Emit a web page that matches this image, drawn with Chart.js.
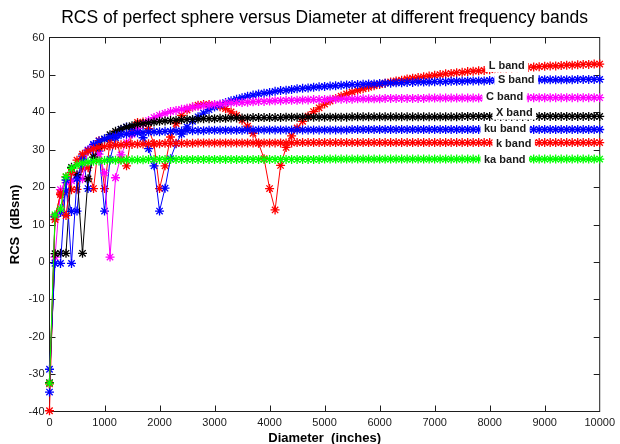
<!DOCTYPE html>
<html>
<head>
<meta charset="utf-8">
<script src="https://cdn.jsdelivr.net/npm/chart.js@4.4.0/dist/chart.umd.min.js"></script>
<style>
  html, body { margin: 0; padding: 0; background: #fff; }
</style>
</head>
<body>
<canvas id="rcsChart" width="620" height="444"></canvas>
<script>
// diameters (inches) where every band was sampled
var diameters = [0,100,200,300,400,500,600,700,800,900,
  1000,1100,1200,1300,1400,1500,1600,1700,1800,1900,
  2000,2100,2200,2300,2400,2500,2600,2700,2800,2900,
  3000,3100,3200,3300,3400,3500,3600,3700,3800,3900,
  4000,4100,4200,4300,4400,4500,4600,4700,4800,4900,
  5000,5100,5200,5300,5400,5500,5600,5700,5800,5900,
  6000,6100,6200,6300,6400,6500,6600,6700,6800,6900,
  7000,7100,7200,7300,7400,7500,7600,7700,7800,7900,
  8000,8100,8200,8300,8400,8500,8600,8700,8800,8900,
  9000,9100,9200,9300,9400,9500,9600,9700,9800,9900,
  10000];

var bandNames = ["L band", "S band", "C band", "X band", "ku band", "k band", "ka band"];
var bandColors = ["#ff0000", "#0000ff", "#ff00ff", "#000000", "#0000ff", "#ff0000", "#00ff00"];

// RCS in dBsm
var rcsL = [-39.8,12.2,18.0,22.7,19.3,19.4,25.1,25.2,19.6,32.4,
  19.6,32.4,34.3,27.4,25.7,34.8,37.3,37.4,35.6,31.5,
  19.6,25.7,33.4,37.0,39.2,40.6,41.4,41.9,42.1,42.1,
  41.9,41.5,41.0,40.1,39.2,37.9,36.3,34.4,31.7,27.6,
  19.6,13.9,25.8,30.6,33.7,35.8,37.6,39.0,40.2,41.2,
  42.2,43.0,43.7,44.3,44.9,45.4,45.9,46.3,46.7,47.1,
  47.4,47.8,48.1,48.4,48.6,48.9,49.1,49.3,49.5,49.7,
  49.9,50.1,50.3,50.4,50.6,50.7,50.9,51.0,51.1,51.2,
  51.4,51.5,51.6,51.7,51.8,51.9,52.0,52.0,52.1,52.2,
  52.3,52.4,52.4,52.5,52.6,52.6,52.7,52.8,52.8,52.9,
  52.9];
var rcsS = [-34.8,12.0,13.2,19.0,13.5,13.6,28.3,19.6,31.3,29.6,
  13.6,27.4,33.2,35.4,36.1,35.9,34.9,33.2,30.3,25.7,
  13.6,19.7,27.6,31.6,34.2,36.1,37.6,38.8,39.8,40.7,
  41.4,42.0,42.6,43.1,43.5,43.9,44.3,44.6,44.9,45.1,
  45.3,45.6,45.8,45.9,46.1,46.3,46.4,46.5,46.7,46.8,
  46.9,47.0,47.1,47.2,47.3,47.4,47.4,47.5,47.6,47.6,
  47.7,47.8,47.8,47.9,47.9,48.0,48.0,48.1,48.1,48.1,
  48.2,48.2,48.2,48.3,48.3,48.3,48.4,48.4,48.4,48.4,
  48.5,48.5,48.5,48.5,48.6,48.6,48.6,48.6,48.6,48.7,
  48.7,48.7,48.7,48.7,48.7,48.7,48.8,48.8,48.8,48.8,
  48.8];
var rcsC = [-32.5,1.3,19.3,21.2,21.7,23.2,22.2,29.9,30.8,28.8,
  23.8,1.3,22.5,28.6,31.9,34.1,35.7,36.9,37.8,38.6,
  39.2,39.7,40.2,40.5,40.8,41.1,41.4,41.6,41.8,41.9,
  42.1,42.2,42.4,42.5,42.6,42.6,42.7,42.8,42.9,42.9,
  43.0,43.1,43.1,43.2,43.2,43.2,43.3,43.3,43.4,43.4,
  43.4,43.5,43.5,43.5,43.5,43.5,43.6,43.6,43.6,43.6,
  43.6,43.7,43.7,43.7,43.7,43.7,43.7,43.7,43.7,43.8,
  43.8,43.8,43.8,43.8,43.8,43.8,43.8,43.8,43.8,43.8,
  43.9,43.9,43.9,43.9,43.9,43.9,43.9,43.9,43.9,43.9,
  43.9,43.9,43.9,43.9,43.9,43.9,43.9,43.9,43.9,43.9,
  43.9];
var rcsX = [-32.3,2.2,2.3,2.3,25.3,23.3,2.3,22.2,28.0,31.0,
  32.8,34.0,34.9,35.5,36.0,36.4,36.8,37.0,37.2,37.4,
  37.6,37.7,37.8,37.9,38.0,38.1,38.1,38.2,38.3,38.3,
  38.3,38.4,38.4,38.5,38.5,38.5,38.5,38.6,38.6,38.6,
  38.6,38.6,38.6,38.7,38.7,38.7,38.7,38.7,38.7,38.7,
  38.7,38.7,38.7,38.7,38.7,38.8,38.8,38.8,38.8,38.8,
  38.8,38.8,38.8,38.8,38.8,38.8,38.8,38.8,38.8,38.8,
  38.8,38.8,38.8,38.8,38.8,38.9,38.9,38.9,38.9,38.9,
  38.9,38.9,38.9,38.9,38.9,38.9,38.9,38.9,38.9,38.9,
  38.9,38.9,38.9,38.9,38.9,38.9,38.9,38.9,38.9,38.9,
  38.9];
var rcsKu = [-28.7,-0.4,-0.4,21.9,-0.4,22.2,27.4,29.9,31.4,32.3,
  32.9,33.4,33.7,34.0,34.2,34.4,34.5,34.6,34.7,34.8,
  34.8,34.9,34.9,35.0,35.0,35.1,35.1,35.1,35.1,35.2,
  35.2,35.2,35.2,35.2,35.2,35.2,35.3,35.3,35.3,35.3,
  35.3,35.3,35.3,35.3,35.3,35.3,35.3,35.3,35.3,35.3,
  35.3,35.3,35.3,35.3,35.3,35.4,35.4,35.4,35.4,35.4,
  35.4,35.4,35.4,35.4,35.4,35.4,35.4,35.4,35.4,35.4,
  35.4,35.4,35.4,35.4,35.4,35.4,35.4,35.4,35.4,35.4,
  35.4,35.4,35.4,35.4,35.4,35.4,35.4,35.4,35.4,35.4,
  35.4,35.4,35.4,35.4,35.4,35.4,35.4,35.4,35.4,35.4,
  35.4];
var rcsK = [-32.6,11.3,18.4,12.4,23.9,27.2,28.8,29.6,30.2,30.6,
  30.8,31.0,31.2,31.3,31.4,31.4,31.5,31.5,31.6,31.6,
  31.6,31.7,31.7,31.7,31.7,31.7,31.7,31.8,31.8,31.8,
  31.8,31.8,31.8,31.8,31.8,31.8,31.8,31.8,31.8,31.8,
  31.8,31.8,31.8,31.8,31.8,31.9,31.9,31.9,31.9,31.9,
  31.9,31.9,31.9,31.9,31.9,31.9,31.9,31.9,31.9,31.9,
  31.9,31.9,31.9,31.9,31.9,31.9,31.9,31.9,31.9,31.9,
  31.9,31.9,31.9,31.9,31.9,31.9,31.9,31.9,31.9,31.9,
  31.9,31.9,31.9,31.9,31.9,31.9,31.9,31.9,31.9,31.9,
  31.9,31.9,31.9,31.9,31.9,31.9,31.9,31.9,31.9,31.9,
  31.9];
var rcsKa = [-32.4,12.6,14.2,22.8,25.0,25.9,26.4,26.7,26.9,27.0,
  27.1,27.2,27.2,27.2,27.3,27.3,27.3,27.3,27.4,27.4,
  27.4,27.4,27.4,27.4,27.4,27.4,27.4,27.4,27.4,27.4,
  27.4,27.4,27.4,27.4,27.4,27.4,27.4,27.4,27.4,27.4,
  27.4,27.4,27.4,27.4,27.4,27.4,27.4,27.4,27.4,27.4,
  27.5,27.5,27.5,27.5,27.5,27.5,27.5,27.5,27.5,27.5,
  27.5,27.5,27.5,27.5,27.5,27.5,27.5,27.5,27.5,27.5,
  27.5,27.5,27.5,27.5,27.5,27.5,27.5,27.5,27.5,27.5,
  27.5,27.5,27.5,27.5,27.5,27.5,27.5,27.5,27.5,27.5,
  27.5,27.5,27.5,27.5,27.5,27.5,27.5,27.5,27.5,27.5,
  27.5];

var allBands = [rcsL, rcsS, rcsC, rcsX, rcsKu, rcsK, rcsKa];

// where the band names sit (left edge of text, centre line), in data units
var labelX = [7982, 8150, 7933, 8114, 7897, 8114, 7897];
var labelY = [52.65, 48.8, 44.2, 39.9, 35.7, 31.7, 27.4];

var chartTitle = "RCS of perfect sphere versus Diameter at different frequency bands";
var xTitle = "Diameter  (inches)";
var yTitle = "RCS  (dBsm)";

Chart.defaults.font.family = "'Liberation Sans', Arial, sans-serif";

var datasets = [];
for (var i = 0; i < allBands.length; i++) {
  var pts = [];
  for (var j = 0; j < diameters.length; j++) {
    pts.push({ x: diameters[j], y: allBands[i][j] });
  }
  datasets.push({
    label: bandNames[i],
    data: pts,
    borderColor: bandColors[i],
    backgroundColor: bandColors[i],
    borderWidth: 1,
    pointStyle: "star",
    pointRadius: 4.5,
    pointBorderWidth: 1.3,
    pointBorderColor: bandColors[i],
    tension: 0,
    clip: false,
    order: allBands.length - i
  });
}

// box, inward ticks, titles and the band names
var matlabLook = {
  id: "matlabLook",
  beforeDatasetsDraw: function (chart) {
    var ctx = chart.ctx, a = chart.chartArea;
    var sx = chart.scales.x, sy = chart.scales.y;
    ctx.save();
    ctx.strokeStyle = "#1e1e1e";
    ctx.lineWidth = 1;
    ctx.beginPath();
    sx.ticks.forEach(function (t) {
      if (t.value <= sx.min || t.value >= sx.max) return;
      var px = Math.round(sx.getPixelForValue(t.value)) + 0.5;
      ctx.moveTo(px, a.bottom); ctx.lineTo(px, a.bottom - 6);
      ctx.moveTo(px, a.top); ctx.lineTo(px, a.top + 6);
    });
    sy.ticks.forEach(function (t) {
      if (t.value <= sy.min || t.value >= sy.max) return;
      var py = Math.round(sy.getPixelForValue(t.value)) + 0.5;
      ctx.moveTo(a.left, py); ctx.lineTo(a.left + 6, py);
      ctx.moveTo(a.right, py); ctx.lineTo(a.right - 6, py);
    });
    ctx.stroke();
    ctx.strokeRect(a.left, a.top, a.right - a.left, a.bottom - a.top);
    ctx.restore();
  },
  afterDatasetsDraw: function (chart) {
    var ctx = chart.ctx;
    var sx = chart.scales.x, sy = chart.scales.y;
    ctx.save();
    ctx.font = "bold 11px 'Liberation Sans', Arial, sans-serif";
    ctx.textBaseline = "middle";
    ctx.textAlign = "left";
    for (var i = 0; i < bandNames.length; i++) {
      var px = sx.getPixelForValue(labelX[i]);
      var py = sy.getPixelForValue(labelY[i]);
      var w = ctx.measureText(bandNames[i]).width;
      ctx.fillStyle = "#ffffff";
      ctx.fillRect(px - 3.5, py - 7, w + 7, 14);
      ctx.fillStyle = "#1a1a1a";
      ctx.fillText(bandNames[i], px, py + 0.5);
    }
    ctx.restore();
  },
  afterDraw: function (chart) {
    var ctx = chart.ctx, a = chart.chartArea;
    var cx = (a.left + a.right) / 2;
    ctx.save();
    ctx.fillStyle = "#000";
    ctx.textAlign = "center";
    ctx.textBaseline = "middle";
    ctx.font = "17.5px 'Liberation Sans', Arial, sans-serif";
    ctx.fillText(chartTitle, cx, 18);
    ctx.font = "bold 13px 'Liberation Sans', Arial, sans-serif";
    ctx.fillText(xTitle, cx, 438);
    ctx.translate(15, (a.top + a.bottom) / 2);
    ctx.rotate(-Math.PI / 2);
    ctx.fillText(yTitle, 0, 0);
    ctx.restore();
  }
};

new Chart(document.getElementById("rcsChart"), {
  type: "line",
  data: { datasets: datasets },
  options: {
    responsive: false,
    animation: false,
    devicePixelRatio: 1,
    layout: { padding: { top: 37.5, right: 16.5, bottom: 0, left: 0 } },
    plugins: {
      legend: { display: false },
      title: { display: false },
      tooltip: { enabled: false }
    },
    scales: {
      x: {
        type: "linear",
        min: 0,
        max: 10000,
        afterFit: function (s) { s.height = 32.5; },
        grid: { display: false, drawTicks: false },
        border: { display: false },
        ticks: { stepSize: 1000, autoSkip: false, maxRotation: 0, padding: 5,
                 color: "#1a1a1a", font: { size: 11 },
                 callback: function (v) { return String(v); } }
      },
      y: {
        min: -40,
        max: 60,
        afterFit: function (s) { s.width = 49.5; },
        grid: { display: false, drawTicks: false },
        border: { display: false },
        ticks: { stepSize: 10, padding: 5, color: "#1a1a1a", font: { size: 11 } }
      }
    }
  },
  plugins: [matlabLook]
});
</script>
</body>
</html>
